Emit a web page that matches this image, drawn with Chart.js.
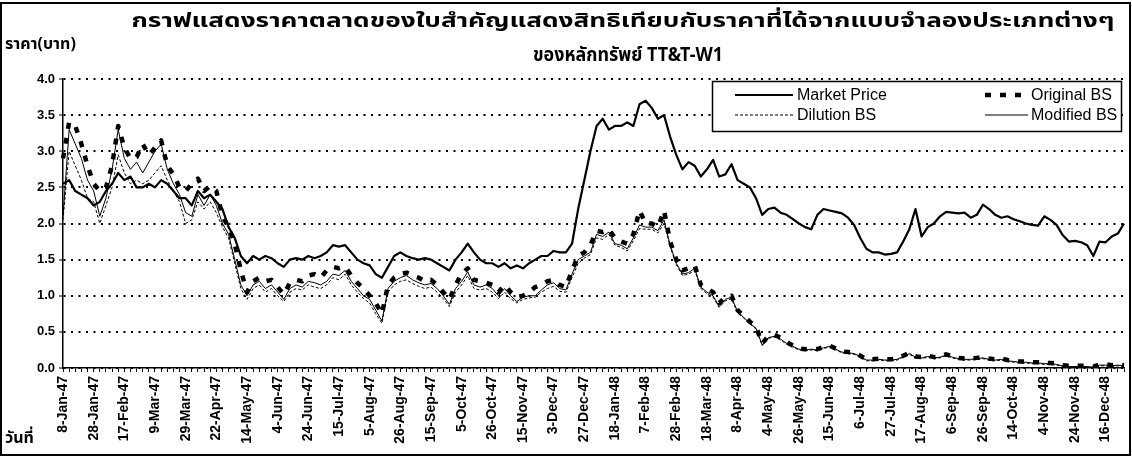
<!DOCTYPE html>
<html><head><meta charset="utf-8">
<script src="https://cdn.jsdelivr.net/npm/chart.js@4.4.1/dist/chart.umd.min.js"></script>
<style>html,body{margin:0;padding:0;background:#fff}#wrap{width:1132px;height:457px;position:relative}</style>
</head><body><div id="wrap"><canvas id="c" width="1132" height="457"></canvas></div>
<script>
const titleLine1 = 'กราฟแสดงราคาตลาดของใบสำคัญแสดงสิทธิเทียบกับราคาที่ได้จากแบบจำลองประเภทต่างๆ';
const titleLine2 = 'ของหลักทรัพย์ TT&T-W1';
const yAxisTitle = 'ราคา(บาท)';
const xAxisTitle = 'วันที่';
const seriesNames = ['Market Price', 'Original BS', 'Dilution BS', 'Modified BS'];

const tickLabels = ['8-Jan-47','28-Jan-47','17-Feb-47','9-Mar-47','29-Mar-47','22-Apr-47','14-May-47','4-Jun-47','24-Jun-47','15-Jul-47','5-Aug-47','26-Aug-47','15-Sep-47','5-Oct-47','26-Oct-47','15-Nov-47','3-Dec-47','27-Dec-47','18-Jan-48','7-Feb-48','28-Feb-48','18-Mar-48','8-Apr-48','4-May-48','26-May-48','15-Jun-48','6-Jul-48','27-Jul-48','17-Aug-48','6-Sep-48','26-Sep-48','14-Oct-48','4-Nov-48','24-Nov-48','16-Dec-48'];
const pointsPerLabel = 5;

const marketPrice = [
2.55,2.6,2.45,2.4,2.35,2.25,2.3,2.45,2.55,2.7,
2.6,2.65,2.5,2.5,2.55,2.5,2.6,2.55,2.45,2.35,
2.35,2.25,2.45,2.35,2.4,2.3,2.2,1.95,1.8,1.55,
1.45,1.55,1.5,1.55,1.52,1.45,1.4,1.5,1.52,1.5,
1.55,1.52,1.55,1.6,1.7,1.68,1.7,1.6,1.5,1.45,
1.42,1.3,1.25,1.4,1.55,1.6,1.55,1.52,1.5,1.52,
1.5,1.45,1.4,1.35,1.5,1.6,1.72,1.6,1.5,1.45,
1.45,1.4,1.45,1.38,1.42,1.38,1.45,1.5,1.55,1.55,
1.62,1.6,1.6,1.72,2.2,2.6,3.0,3.35,3.45,3.3,
3.35,3.35,3.4,3.35,3.65,3.7,3.6,3.45,3.5,3.2,
2.95,2.75,2.85,2.8,2.65,2.75,2.88,2.65,2.68,2.82,
2.6,2.55,2.5,2.35,2.12,2.2,2.22,2.15,2.12,2.06,
2.0,1.95,1.92,2.12,2.2,2.18,2.16,2.14,2.08,1.98,
1.8,1.65,1.6,1.6,1.57,1.58,1.6,1.75,1.92,2.2,
1.82,1.95,2.0,2.1,2.16,2.15,2.14,2.15,2.08,2.12,
2.26,2.2,2.12,2.08,2.1,2.06,2.03,2.0,1.98,1.97,
2.1,2.05,1.98,1.84,1.75,1.76,1.74,1.7,1.55,1.75,
1.74,1.82,1.86,2.0];

const originalBS = [
2.9,3.4,3.35,3.1,2.8,2.55,2.45,2.5,2.8,3.35,
3.05,2.9,2.92,3.1,2.95,3.05,3.15,2.8,2.68,2.5,
2.45,2.55,2.62,2.45,2.52,2.45,2.1,1.95,1.72,1.35,
1.05,1.2,1.25,1.2,1.22,1.12,1.02,1.18,1.22,1.2,
1.28,1.3,1.25,1.35,1.4,1.38,1.4,1.28,1.18,1.1,
1.0,0.9,0.75,1.15,1.25,1.3,1.32,1.28,1.25,1.2,
1.22,1.15,1.05,0.95,1.15,1.3,1.38,1.22,1.2,1.18,
1.15,1.05,1.15,1.05,0.98,1.0,1.05,1.12,1.15,1.2,
1.22,1.15,1.12,1.35,1.55,1.6,1.7,1.9,1.88,1.92,
1.8,1.75,1.72,1.85,2.18,2.0,2.0,1.95,2.18,1.75,
1.5,1.35,1.38,1.42,1.15,1.1,1.05,0.9,0.98,1.0,
0.8,0.72,0.64,0.57,0.34,0.44,0.46,0.42,0.36,0.31,
0.27,0.26,0.27,0.26,0.29,0.31,0.27,0.23,0.22,0.21,
0.17,0.12,0.12,0.13,0.12,0.12,0.13,0.17,0.21,0.16,
0.15,0.17,0.15,0.16,0.19,0.16,0.14,0.13,0.13,0.14,
0.15,0.13,0.12,0.13,0.11,0.1,0.09,0.09,0.08,0.08,
0.07,0.07,0.06,0.04,0.03,0.03,0.03,0.03,0.02,0.05,
0.05,0.04,0.05,0.04];

const dilutionBS = [
2.05,3.0,2.8,2.6,2.35,2.3,2.0,2.25,2.5,2.95,
2.7,2.55,2.6,2.55,2.6,2.7,2.8,2.6,2.45,2.3,
2.0,2.05,2.3,2.2,2.3,2.15,1.95,1.8,1.45,1.1,
0.95,1.1,1.15,1.05,1.1,1.0,0.92,1.05,1.1,1.08,
1.15,1.12,1.1,1.15,1.25,1.22,1.3,1.15,1.05,0.96,
0.9,0.75,0.62,1.05,1.15,1.2,1.22,1.17,1.13,1.1,
1.12,1.05,0.96,0.85,1.05,1.15,1.28,1.1,1.08,1.1,
1.05,0.96,1.05,0.96,0.9,0.95,0.97,0.98,1.05,1.1,
1.13,1.06,1.05,1.25,1.45,1.52,1.57,1.8,1.78,1.85,
1.7,1.67,1.62,1.76,1.93,1.92,1.92,1.87,2.0,1.68,
1.43,1.28,1.3,1.35,1.1,1.03,0.98,0.84,0.93,0.96,
0.76,0.69,0.61,0.54,0.31,0.41,0.43,0.39,0.33,0.29,
0.25,0.24,0.25,0.24,0.27,0.29,0.25,0.21,0.2,0.19,
0.15,0.1,0.1,0.11,0.1,0.1,0.11,0.15,0.19,0.14,
0.13,0.15,0.13,0.14,0.17,0.14,0.12,0.11,0.11,0.12,
0.13,0.11,0.1,0.11,0.09,0.08,0.07,0.07,0.06,0.06,
0.05,0.05,0.04,0.02,0.01,0.01,0.01,0.01,0.01,0.03,
0.03,0.02,0.03,0.02];

const modifiedBS = [
2.1,3.3,3.1,2.9,2.6,2.45,2.1,2.35,2.75,3.3,
2.9,2.75,2.85,2.7,2.85,3.0,3.1,2.75,2.55,2.4,
2.15,2.1,2.4,2.25,2.4,2.25,2.0,1.85,1.5,1.15,
1.0,1.15,1.2,1.1,1.15,1.05,0.95,1.1,1.15,1.12,
1.2,1.18,1.15,1.2,1.3,1.28,1.35,1.2,1.1,1.0,
0.95,0.8,0.65,1.1,1.2,1.25,1.28,1.22,1.18,1.15,
1.17,1.1,1.0,0.88,1.1,1.2,1.33,1.15,1.12,1.15,
1.1,1.0,1.1,1.0,0.92,0.98,1.0,1.0,1.08,1.15,
1.18,1.1,1.08,1.3,1.5,1.55,1.6,1.85,1.82,1.88,
1.72,1.7,1.65,1.8,1.98,1.95,1.95,1.9,2.05,1.7,
1.45,1.3,1.32,1.38,1.12,1.05,1.0,0.85,0.95,0.98,
0.78,0.7,0.62,0.55,0.32,0.42,0.44,0.4,0.34,0.3,
0.26,0.25,0.26,0.25,0.28,0.3,0.26,0.22,0.21,0.2,
0.16,0.11,0.11,0.12,0.11,0.11,0.12,0.16,0.2,0.15,
0.14,0.16,0.14,0.15,0.18,0.15,0.13,0.12,0.12,0.13,
0.14,0.12,0.11,0.12,0.1,0.09,0.08,0.08,0.07,0.07,
0.06,0.06,0.05,0.03,0.02,0.02,0.02,0.02,0.01,0.04,
0.04,0.03,0.04,0.03];

const yMin = 0, yMax = 4, yStep = 0.5;

const categories = marketPrice.map((_, i) =>
  (i % pointsPerLabel === 0 && tickLabels[i / pointsPerLabel]) ? tickLabels[i / pointsPerLabel] : '');

const thaiFont = '"Noto Sans Thai","Noto Sans Thai UI","Loma","Garuda","Tlwg Typo","Norasi","Waree","Sarabun","Tahoma","DejaVu Sans",sans-serif';
const latinFont = '"Liberation Sans", Arial, sans-serif';
const styles = [
  {borderWidth: 2.2, borderDash: []},
  {borderWidth: 4.5, borderDash: [6, 9]},
  {borderWidth: 1, borderDash: [3, 2]},
  {borderWidth: 1, borderDash: []}
];
const seriesValues = [marketPrice, originalBS, dilutionBS, modifiedBS];

function fitText(ctx, text, cx, cy, targetW, font) {
  ctx.save();
  ctx.font = font;
  ctx.textAlign = 'center';
  ctx.textBaseline = 'middle';
  const w = ctx.measureText(text).width;
  const s = targetW / w;
  ctx.translate(cx, cy);
  ctx.scale(s, 1);
  ctx.fillText(text, 0, 0);
  ctx.restore();
}

const decorPlugin = {
  id: 'decor',
  afterDatasetsDraw(chart) {
    const ctx = chart.ctx;
    const bx = 712.5, by = 81.5, bw = 409, bh = 50;
    ctx.save();
    ctx.fillStyle = '#fff';
    ctx.fillRect(bx, by, bw, bh);
    ctx.strokeStyle = '#000';
    ctx.lineWidth = 1.5;
    ctx.strokeRect(bx, by, bw, bh);
    const entries = [
      {i: 0, x1: 735, x2: 793, tx: 797, y: 95},
      {i: 1, x1: 985, x2: 1028, tx: 1031, y: 95},
      {i: 2, x1: 735, x2: 793, tx: 797, y: 115},
      {i: 3, x1: 985, x2: 1028, tx: 1031, y: 115}
    ];
    ctx.font = '16px ' + latinFont;
    ctx.textBaseline = 'middle';
    ctx.textAlign = 'left';
    ctx.fillStyle = '#000';
    entries.forEach(e => {
      const st = styles[e.i];
      ctx.save();
      ctx.lineWidth = st.borderWidth;
      ctx.setLineDash(st.borderDash);
      ctx.beginPath();
      ctx.moveTo(e.x1, e.y);
      ctx.lineTo(e.x2, e.y);
      ctx.stroke();
      ctx.restore();
      ctx.fillText(seriesNames[e.i], e.tx, e.y + 1);
    });
    ctx.restore();
  },
  afterDraw(chart) {
    const ctx = chart.ctx;
    ctx.save();
    ctx.fillStyle = '#000';
    fitText(ctx, titleLine1, 623, 23, 983, 'bold 19px ' + thaiFont);
    fitText(ctx, titleLine2, 628, 57, 190, 'bold 19px ' + thaiFont);
    ctx.textAlign = 'left';
    ctx.textBaseline = 'middle';
    ctx.font = 'bold 16px ' + thaiFont;
    ctx.fillText(yAxisTitle, 5, 46);
    ctx.fillText(xAxisTitle, 5, 440);
    ctx.strokeStyle = '#000';
    ctx.lineWidth = 2;
    ctx.strokeRect(1, 3, 1129, 452);
    ctx.restore();
  }
};

new Chart(document.getElementById('c'), {
  type: 'line',
  data: {
    labels: categories,
    datasets: seriesValues.map((vals, k) => ({
      label: seriesNames[k],
      data: vals,
      borderColor: '#000',
      backgroundColor: '#000',
      borderWidth: styles[k].borderWidth,
      borderDash: styles[k].borderDash,
      borderCapStyle: 'butt',
      borderJoinStyle: 'round',
      pointRadius: 0,
      tension: 0,
      fill: false
    }))
  },
  options: {
    responsive: false,
    animation: false,
    devicePixelRatio: 1,
    layout: {padding: {top: 79, left: 0, right: 8, bottom: 0}},
    plugins: {legend: {display: false}, title: {display: false}, tooltip: {enabled: false}},
    scales: {
      x: {
        type: 'category',
        offset: false,
        afterFit(scale) { scale.height = 89; scale.paddingLeft = 0; scale.paddingRight = 0; },
        ticks: {
          autoSkip: false, maxRotation: 90, minRotation: 90,
          color: '#000', padding: 4,
          font: {family: latinFont, size: 14, weight: 'bold'}
        },
        grid: {display: true, drawOnChartArea: false, drawTicks: true, tickLength: 4, color: '#000', lineWidth: 1},
        border: {display: true, color: '#000', width: 1.5}
      },
      y: {
        min: yMin, max: yMax,
        afterFit(scale) { scale.width = 63; scale.paddingTop = 0; scale.paddingBottom = 0; },
        ticks: {
          stepSize: yStep, color: '#000', padding: 4,
          font: {family: latinFont, size: 13, weight: 'bold'},
          callback: v => Number(v).toFixed(1)
        },
        grid: {display: true, color: '#000', lineWidth: 2, tickLength: 4, tickColor: '#000', tickWidth: 1},
        border: {display: true, color: '#000', width: 1.5, dash: [2, 5.5]}
      }
    }
  },
  plugins: [decorPlugin]
});
</script>
</body></html>
